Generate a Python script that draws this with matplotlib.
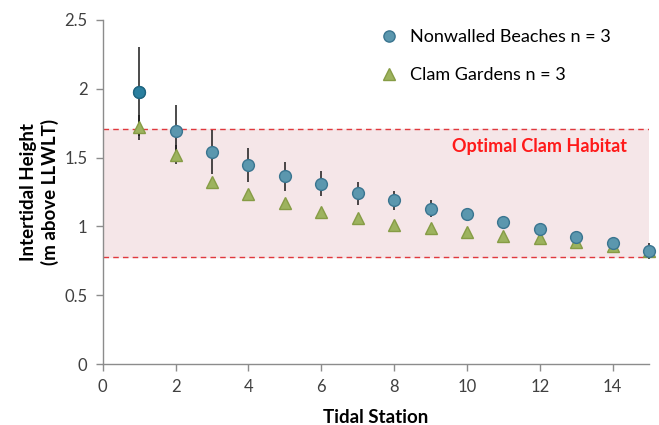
#!/usr/bin/env python3
"""Intertidal height of tidal stations: nonwalled beaches vs clam gardens."""

import matplotlib
matplotlib.use("Agg")
import matplotlib.pyplot as plt

plt.rcParams["font.family"] = ["Lato", "DejaVu Sans"]

stations = list(range(1, 16))
nonwalled = [1.98, 1.69, 1.54, 1.445, 1.365, 1.31, 1.24, 1.19, 1.13, 1.09, 1.03, 0.98, 0.925, 0.88, 0.82]
nonwalled_err = [0.32, 0.19, 0.16, 0.125, 0.105, 0.09, 0.085, 0.07, 0.065, 0.04, 0.03, 0.03, 0.03, 0.03, 0.06]
clam = [1.72, 1.52, 1.325, 1.235, 1.17, 1.107, 1.06, 1.01, 0.99, 0.96, 0.93, 0.915, 0.89, 0.86, 0.82]
clam_err = [0.09, 0.07, 0.03, 0.03, 0.03, 0.02, 0.02, 0.02, 0.02, 0.02, 0.02, 0.02, 0.02, 0.02, 0.03]
habitat_low, habitat_high = 0.78, 1.71

fig = plt.figure(figsize=(6.59, 4.25), dpi=100)
ax = fig.add_axes([0.156, 0.1435, 0.829, 0.8095])

ax.axhspan(habitat_low, habitat_high, color="#f5e6e8", zorder=0)
ax.axhline(habitat_high, color="#e0393e", ls=(0, (4, 3)), lw=1.0, zorder=1)
ax.axhline(habitat_low, color="#e0393e", ls=(0, (4, 3)), lw=1.0, zorder=1)
ax.text(12, 1.58, "Optimal Clam Habitat", color="#ff1a1a", fontsize=13,
        fontweight="bold", ha="center", va="center")

for vals, errs in [(nonwalled, nonwalled_err), (clam, clam_err)]:
    eb = ax.errorbar(stations, vals, yerr=errs, fmt="none", ecolor="#1a1a1a",
                     elinewidth=1.1, zorder=2)
    for c in eb.lines[2]:
        c.set_clip_on(False)

ax.plot(stations, nonwalled, "o", ms=8.5, mfc="#5b97ae", mec="#3a7590", mew=1.0,
        zorder=4, clip_on=False, label="Nonwalled Beaches n = 3")
ax.plot(stations[:1], nonwalled[:1], "o", ms=8.5, mfc="#2a7f9f", mec="#1f6580", mew=1.0, zorder=4)
ax.plot(stations, clam, "^", ms=8.5, mfc="#9db35e", mec="#869c45", mew=1.0,
        zorder=3, clip_on=False, label="Clam Gardens n = 3")

ax.set_xlim(0, 15)
ax.set_ylim(0, 2.5)
ax.set_xticks(range(0, 15, 2))
ax.set_yticks([0, 0.5, 1, 1.5, 2, 2.5])
ax.set_yticklabels(["0", "0.5", "1", "1.5", "2", "2.5"])
ax.tick_params(labelsize=12, colors="#404040", length=5, width=1, direction="out", pad=6)
ax.tick_params(axis="both", color="#8c8c8c")
for s in ["top", "right"]:
    ax.spines[s].set_visible(False)
for s in ["left", "bottom"]:
    ax.spines[s].set_color("#8c8c8c")
    ax.spines[s].set_linewidth(1.0)

ax.set_xlabel("Tidal Station", fontsize=13.5, fontweight="bold", labelpad=10)
ax.set_ylabel("Intertidal Height\n(m above LLWLT)", fontsize=13.5, fontweight="bold",
              linespacing=1.25, labelpad=4)

ax.legend(loc="upper right", bbox_to_anchor=(0.96, 1.02), frameon=False, fontsize=13,
          handletextpad=0.2, labelspacing=1.2, markerscale=0.95)

fig.savefig("out.png", dpi=100)
